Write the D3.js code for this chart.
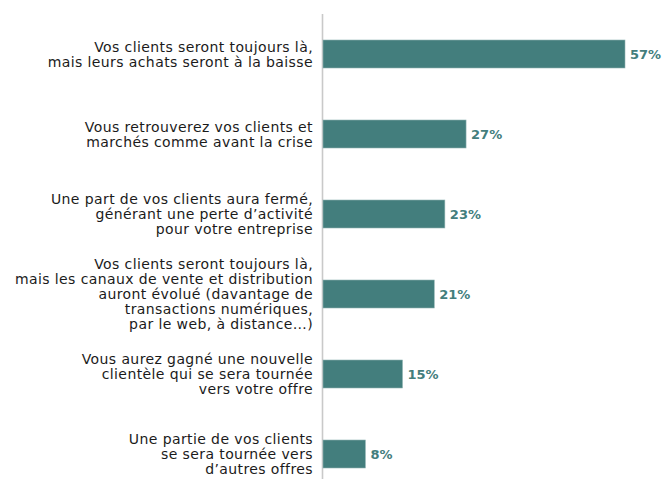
<!DOCTYPE html>
<html>
<head>
<meta charset="utf-8">
<script src="https://cdn.jsdelivr.net/npm/d3@7"></script>
<style>
  html, body { margin: 0; padding: 0; background: #fff; }
  svg { display: block; }
</style>
</head>
<body>
<svg id="chart" width="662" height="479"></svg>
<script>
// Answer categories (each entry = lines of the wrapped label)
const categories = [
  ["Vos clients seront toujours là,", "mais leurs achats seront à la baisse"],
  ["Vous retrouverez vos clients et", "marchés comme avant la crise"],
  ["Une part de vos clients aura fermé,", "générant une perte d’activité", "pour votre entreprise"],
  ["Vos clients seront toujours là,", "mais les canaux de vente et distribution", "auront évolué (davantage de", "transactions numériques,", "par le web, à distance…)"],
  ["Vous aurez gagné une nouvelle", "clientèle qui se sera tournée", "vers votre offre"],
  ["Une partie de vos clients", "se sera tournée vers", "d’autres offres"]
];
const values = [57, 27, 23, 21, 15, 8];

const width = 662, height = 479;
const x0 = 323;
const svg = d3.select("#chart");

const x = d3.scaleLinear().domain([0, 57]).range([x0, 625]);
const y = d3.scaleBand()
  .domain(d3.range(categories.length))
  .range([14, 494])
  .paddingInner(0.65)
  .paddingOuter(0.325);

const teal = "#437e7d";
const font = "'DejaVu Sans', sans-serif";

// vertical baseline axis
svg.append("line")
  .attr("x1", x0 - 0.5).attr("x2", x0 - 0.5)
  .attr("y1", 14).attr("y2", height)
  .attr("stroke", "#c9c9c9").attr("stroke-width", 1.6);

const rows = svg.append("g").selectAll("g")
  .data(values)
  .join("g");

rows.append("rect")
  .attr("x", x0)
  .attr("y", (d, i) => y(i))
  .attr("width", d => x(d) - x0)
  .attr("height", y.bandwidth())
  .attr("fill", teal)
  .attr("stroke", "#8fb3b2")
  .attr("stroke-width", 0.6);

rows.append("text")
  .attr("x", d => x(d) + 5)
  .attr("y", (d, i) => y(i) + y.bandwidth() / 2)
  .attr("dy", "0.36em")
  .attr("font-family", font)
  .attr("font-weight", 700)
  .attr("font-size", 13)
  .attr("fill", teal)
  .text(d => d + "%");

// category labels, right aligned against the axis
const lineH = 15;
rows.append("text")
  .attr("text-anchor", "end")
  .attr("font-family", font)
  .attr("font-size", 14)
  .attr("letter-spacing", 0.4)
  .attr("fill", "#1b1b1b")
  .each(function(d, i) {
    const lines = categories[i];
    const cy = y(i) + y.bandwidth() / 2;
    const top = cy - (lines.length - 1) * lineH / 2;
    d3.select(this).selectAll("tspan")
      .data(lines)
      .join("tspan")
      .attr("x", 313)
      .attr("y", (l, j) => top + j * lineH)
      .attr("dy", "0.36em")
      .text(l => l);
  });
</script>
</body>
</html>
